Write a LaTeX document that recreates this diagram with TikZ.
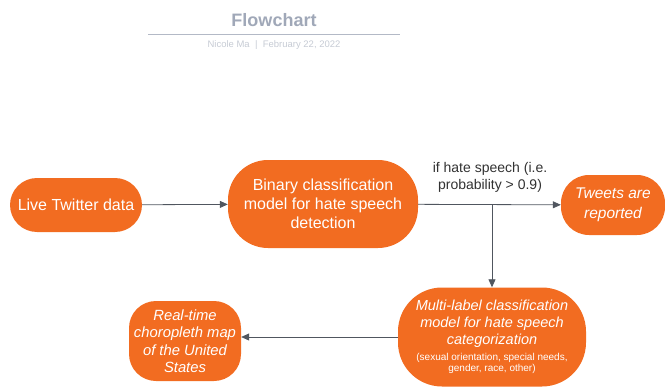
\documentclass[tikz,border=0pt]{standalone}
\usepackage{fontspec}
\setmainfont{Liberation Sans}
\usetikzlibrary{arrows.meta}

\definecolor{flowOrange}{RGB}{242,108,33}
\definecolor{titleGray}{RGB}{160,168,184}
\definecolor{lineGray}{RGB}{80,86,95}
\definecolor{labelGray}{RGB}{50,50,50}

\tikzset{
  pill/.style={fill=flowOrange, text=white, align=center, inner sep=0pt},
  flowArrow/.style={draw=lineGray, line width=0.8pt, -{Triangle[length=8pt,width=7pt]}},
}

\begin{document}
\begin{tikzpicture}[x=1pt,y=1pt]
    \useasboundingbox (0,0) rectangle (665,-388);

    % Title block
    \node[font=\bfseries\fontsize{18}{20}\selectfont, text=titleGray] (title) at (274,-20) {Flowchart};
    \coordinate (ruleL) at (148,-34);
    \coordinate (ruleR) at (400,-34);
    \draw[titleGray!80, line width=0.8pt] (ruleL) -- (ruleR);
    \node[font=\fontsize{9.5}{11}\selectfont, text=titleGray!60] (byline) at (274,-45) {Nicole Ma \ | \ February 22, 2022};

    % Boxes
    \node[pill, minimum width=132pt, minimum height=54pt, rounded corners=27pt,
          font=\fontsize{16}{19}\selectfont] (live) at (76,-205) {Live Twitter data};
    \node[pill, minimum width=190pt, minimum height=88pt, rounded corners=40pt,
          font=\fontsize{16}{19}\selectfont] (binary) at (323,-204)
          {Binary classification\\model for hate speech\\detection};
    \node[pill, minimum width=104pt, minimum height=60pt, rounded corners=28pt,
          font=\itshape\fontsize{15.5}{20}\selectfont] (reported) at (613,-205) {Tweets are\\reported};
    \node[pill, minimum width=188pt, minimum height=99pt, rounded corners=44pt,
          font=\itshape\fontsize{14.5}{17}\selectfont] (multi) at (492,-337)
          {Multi-label classification\\model for hate speech\\categorization\\[-1pt]
           {\upshape\fontsize{10}{11}\selectfont(sexual orientation, special needs,}\\[-6pt]
           {\upshape\fontsize{10}{11}\selectfont gender, race, other)}};
    \node[pill, minimum width=112pt, minimum height=80pt, rounded corners=27pt,
          font=\itshape\fontsize{14.8}{17.5}\selectfont] (realtime) at (185,-341)
          {Real-time\\choropleth map\\of the United\\States};

    % Condition label
    \node[font=\fontsize{14}{17}\selectfont, text=labelGray, align=center] (cond) at (490,-177)
          {if hate speech (i.e.\\probability > 0.9)};

    % Connectors
    \draw[flowArrow] (live) -- (binary);
    \draw[flowArrow] (binary) -- (reported);
    \coordinate (split) at (multi.north |- binary.east);
    \draw[flowArrow] (split) -- (multi.north);
    \draw[flowArrow] (multi.west) -- (multi.west -| realtime.east);
\end{tikzpicture}
\end{document}
